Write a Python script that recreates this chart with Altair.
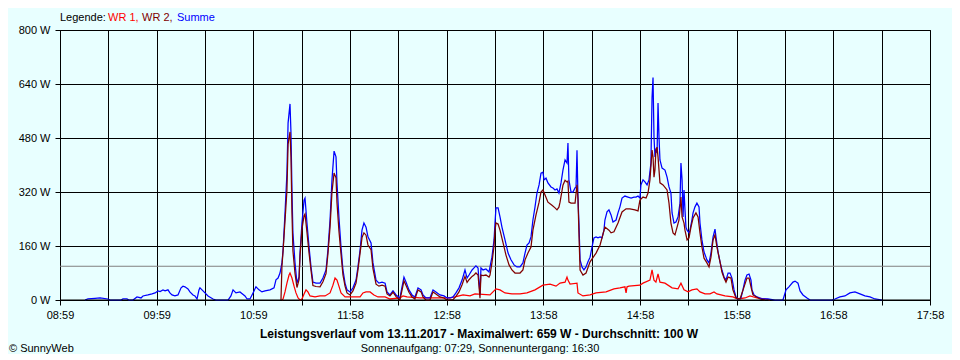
import altair as alt
import pandas as pd

FONT = "Liberation Sans"
BG = "#e8ffff"

# ---- data (minutes after 08:59, watts) ----
t_summe = [15.5, 17.3, 21.7, 24.8, 29.7, 31.0, 37.8, 39.0, 41.5, 42.7,
           45.2, 47.7, 50.2, 51.4, 54.5, 57.0, 58.9, 60.7, 62.0, 63.8,
           65.1, 66.9, 68.1, 69.4, 71.2, 73.1, 75.0, 76.2, 77.4, 79.3,
           80.5, 82.4, 83.6, 84.9, 86.1, 86.7, 88.6, 91.7, 94.8, 96.6,
           104.1, 105.9, 107.2, 109.0, 111.5, 114.6, 115.9, 117.7, 119.6, 121.4,
           123.3, 125.1, 127.0, 130.1, 132.6, 133.8, 135.1, 136.3, 137.5, 138.2,
           139.4, 140.6, 141.3, 142.5, 143.1, 143.7, 144.3, 145.6, 146.8, 148.1,
           148.7, 149.9, 151.2, 151.8, 153.0, 154.3, 155.5, 156.7, 158.6, 161.1,
           162.9, 164.8, 166.0, 167.3, 168.5, 169.8, 171.0, 171.6, 172.8, 174.1,
           175.3, 176.6, 177.8, 179.7, 181.5, 183.4, 184.6, 185.9, 187.1, 188.3,
           189.6, 190.8, 192.7, 193.9, 195.8, 197.6, 199.5, 201.4, 202.6, 204.4,
           206.3, 208.2, 210.6, 211.9, 213.1, 214.4, 216.2, 218.1, 219.9, 221.8,
           223.7, 224.9, 226.7, 229.2, 231.1, 232.9, 235.4, 237.9, 239.8, 241.6,
           243.5, 245.3, 247.2, 249.1, 250.9, 252.2, 253.4, 255.3, 256.5, 257.7,
           259.0, 260.2, 260.8, 262.1, 263.9, 265.8, 266.4, 267.6, 268.9, 269.5,
           270.1, 271.4, 272.6, 273.8, 275.7, 277.6, 279.4, 281.3, 283.1, 285.0,
           286.8, 288.1, 289.3, 290.6, 291.8, 293.0, 294.3, 295.5, 296.8, 298.0,
           299.2, 299.9, 301.1, 302.3, 304.2, 305.4, 306.7, 307.9, 309.1, 310.4,
           311.6, 312.9, 314.1, 314.7, 315.3, 316.6, 317.8, 319.1, 319.7, 320.3,
           320.9, 321.5, 322.2, 323.4, 324.6, 325.9, 327.1, 328.4, 329.6, 330.8,
           332.1, 333.3, 334.6, 335.8, 337.0, 337.6, 338.9, 340.1, 341.4, 342.6,
           344.5, 345.7, 346.9, 348.2, 350.0, 351.9, 353.8, 355.6, 356.9, 358.1,
           359.3, 359.9, 361.2, 362.4, 363.7, 364.9, 366.1, 366.8, 367.4, 368.0,
           368.6, 369.2, 369.9, 370.5, 371.1, 371.7, 373.0, 374.8, 376.1, 377.3,
           378.5, 379.2, 380.4, 381.6, 382.9, 384.1, 384.7, 385.4, 386.0, 386.6,
           387.2, 387.8, 388.5, 389.7, 390.3, 391.5, 392.2, 393.4, 394.6, 395.9,
           396.5, 397.7, 399.0, 400.2, 400.8, 402.1, 403.3, 404.6, 405.8, 406.4,
           407.7, 408.9, 410.1, 411.4, 412.6, 413.9, 415.1, 416.3, 417.6, 418.8,
           420.0, 421.9, 423.1, 424.4, 425.6, 426.9, 428.1, 428.7, 430.0, 431.8,
           433.7, 435.5, 438.6, 443.0, 447.9, 449.8, 451.6, 454.1, 455.4, 457.2,
           458.5, 460.3, 462.8, 464.7, 478.3, 480.1, 483.2, 486.3, 489.4, 492.5,
           495.6, 498.7, 501.8, 504.9, 509.3]
summe = [0, 3, 5, 6, 3, 0, 0, 3, 3, 0,
         0, 9, 6, 12, 15, 18, 21, 27, 25, 30,
         27, 30, 21, 15, 12, 15, 36, 41, 39, 33,
         24, 15, 12, 3, 30, 36, 27, 12, 3, 0,
         0, 12, 30, 21, 24, 12, 3, 3, 21, 39,
         30, 24, 27, 30, 36, 60, 65, 80, 110, 148,
         258, 376, 524, 581, 495, 326, 199, 110, 50, 68,
         139, 228, 296, 302, 228, 157, 98, 53, 50, 50,
         65, 89, 148, 237, 356, 441, 424, 347, 246, 157,
         89, 50, 30, 24, 36, 59, 98, 148, 207, 228,
         216, 187, 169, 110, 59, 50, 53, 50, 24, 15,
         27, 15, 6, 39, 68, 53, 30, 15, 9, 36,
         30, 15, 6, 6, 30, 24, 15, 12, 6, 6,
         9, 21, 36, 59, 89, 65, 74, 89, 95, 101,
         95, 15, 95, 89, 92, 83, 98, 127, 178, 228,
         273, 273, 246, 216, 178, 139, 119, 104, 98, 98,
         110, 139, 163, 169, 187, 237, 276, 317, 341, 376,
         379, 356, 361, 347, 335, 332, 326, 329, 317, 347,
         385, 415, 406, 465, 356, 320, 320, 332, 335, 444,
         305, 228, 119, 98, 89, 98, 113, 127, 157, 184,
         187, 184, 187, 184, 207, 237, 261, 267, 252, 231,
         237, 258, 276, 302, 308, 305, 302, 305, 305, 308,
         302, 341, 356, 350, 341, 356, 406, 601, 659, 483,
         424, 444, 436, 584, 483, 415, 391, 385, 364, 335,
         317, 258, 228, 231, 246, 287, 406, 356, 246, 326,
         267, 216, 207, 199, 207, 237, 258, 276, 287, 276,
         228, 178, 142, 127, 119, 110, 139, 187, 210, 187,
         142, 113, 89, 68, 59, 80, 80, 65, 30, 9,
         3, 6, 30, 59, 74, 77, 59, 30, 15, 9,
         6, 3, 3, 0, 0, 30, 39, 53, 56, 50,
         27, 15, 6, 0, 0, 3, 9, 12, 21, 24,
         18, 12, 9, 3, 0]

t_wr1 = [137.5, 138.2, 139.4, 140.6, 141.9, 142.5, 143.7, 145.0, 146.2, 147.5,
         148.7, 149.9, 151.2, 152.4, 153.6, 154.9, 158.0, 161.1, 164.2, 167.3,
         169.1, 170.4, 171.6, 172.8, 174.1, 176.6, 179.7, 185.9, 187.7, 189.6,
         192.1, 194.5, 197.0, 201.4, 204.4, 210.6, 212.5, 215.0, 223.0, 241.6,
         244.7, 249.7, 254.0, 257.1, 266.4, 270.1, 272.6, 275.7, 280.0, 285.0,
         289.3, 294.3, 299.2, 303.6, 307.3, 309.8, 312.9, 314.1, 314.7, 316.0,
         320.3, 320.9, 324.0, 328.4, 332.1, 338.3, 343.2, 346.9, 350.0, 350.7,
         351.3, 352.5, 359.3, 361.2, 365.5, 366.8, 368.0, 369.2, 370.5, 371.7,
         374.8, 379.2, 382.9, 384.7, 386.6, 389.1, 391.5, 394.6, 396.5, 399.6,
         402.7, 405.2, 407.0, 412.0, 416.9, 420.0, 424.4, 427.5, 431.8, 436.8,
         439.9]
wr1 = [0, 3, 24, 50, 74, 80, 65, 41, 21, 6,
       0, 3, 18, 30, 24, 12, 9, 12, 12, 21,
       44, 65, 59, 41, 21, 9, 9, 9, 21, 24,
       24, 15, 9, 9, 3, 6, 12, 9, 6, 6,
       9, 15, 12, 18, 15, 33, 30, 21, 18, 18,
       21, 30, 44, 47, 41, 50, 53, 68, 59, 47,
       50, 21, 12, 15, 21, 24, 33, 36, 39, 21,
       39, 41, 44, 50, 59, 89, 59, 53, 77, 53,
       50, 36, 33, 50, 30, 24, 30, 33, 24, 18,
       18, 24, 18, 12, 9, 3, 6, 12, 6, 3,
       0]

t_wr2 = [136.9, 137.5, 138.2, 139.4, 140.6, 141.3, 142.5, 143.1, 143.7, 144.3,
         145.6, 146.8, 148.1, 148.7, 149.9, 151.2, 151.8, 153.0, 154.3, 155.5,
         156.7, 158.6, 161.1, 162.9, 164.8, 166.0, 167.3, 168.5, 169.8, 171.0,
         171.6, 172.8, 174.1, 175.3, 176.6, 177.8, 179.7, 181.5, 183.4, 184.6,
         185.9, 187.1, 188.3, 189.6, 190.8, 192.7, 193.9, 195.8, 197.6, 199.5,
         201.4, 202.6, 204.4, 206.3, 208.2, 210.6, 211.9, 213.1, 214.4, 216.2,
         218.1, 219.9, 221.8, 223.7, 224.9, 226.7, 229.2, 231.1, 232.9, 235.4,
         237.9, 239.8, 243.5, 245.3, 247.2, 249.1, 250.9, 252.2, 253.4, 255.3,
         256.5, 257.7, 259.0, 260.2, 260.8, 262.1, 263.9, 265.8, 266.4, 267.6,
         268.9, 269.5, 270.1, 271.4, 272.6, 274.5, 276.3, 278.2, 280.0, 281.9,
         285.0, 286.8, 288.1, 289.9, 291.8, 293.0, 294.9, 296.8, 298.0, 299.2,
         300.5, 302.3, 304.8, 306.7, 307.9, 309.1, 309.8, 311.6, 312.9, 314.1,
         314.7, 315.3, 316.6, 319.1, 320.3, 320.9, 321.5, 322.2, 324.0, 325.9,
         328.4, 332.1, 334.6, 337.6, 340.1, 341.4, 343.2, 345.7, 348.2, 350.7,
         353.1, 356.2, 358.1, 359.3, 361.2, 363.1, 364.3, 365.5, 366.8, 367.4,
         368.0, 368.6, 369.2, 369.9, 370.5, 371.7, 373.6, 376.1, 377.3, 378.5,
         379.8, 381.0, 382.3, 383.5, 384.7, 385.4, 386.6, 387.2, 388.5, 389.7,
         390.9, 392.2, 394.0, 395.3, 396.5, 397.7, 399.0, 400.8, 402.1, 403.3,
         404.6, 405.8, 407.0, 408.9, 410.1, 411.4, 412.6, 413.9, 415.7, 416.9,
         418.8, 421.3, 423.8, 425.6, 426.9, 428.1, 429.3, 433.7, 436.8]
wr2 = [0, 100, 145, 234, 326, 462, 498, 423, 261, 146,
       79, 37, 60, 130, 210, 250, 255, 201, 139, 88,
       43, 40, 39, 54, 78, 137, 216, 320, 376, 362,
       288, 205, 136, 74, 41, 21, 15, 27, 50, 89,
       139, 185, 199, 192, 163, 149, 93, 47, 41, 44,
       41, 18, 12, 23, 10, 0, 29, 57, 43, 23,
       9, 3, 30, 24, 9, 0, 0, 24, 18, 9,
       6, 0, 1, 11, 24, 45, 70, 52, 60, 70,
       74, 80, 74, 5, 74, 72, 74, 68, 74, 110,
       160, 207, 228, 225, 207, 169, 133, 104, 89, 80,
       80, 89, 119, 139, 157, 207, 252, 290, 320, 326,
       311, 290, 281, 273, 267, 275, 290, 340, 355, 350,
       352, 290, 287, 287, 341, 300, 200, 89, 74, 80,
       113, 139, 163, 216, 207, 199, 202, 228, 261, 270,
       270, 267, 264, 296, 305, 302, 317, 356, 444, 424,
       364, 385, 444, 453, 424, 347, 341, 326, 287, 228,
       199, 193, 216, 237, 305, 246, 228, 207, 178, 184,
       216, 243, 258, 246, 199, 157, 124, 110, 98, 127,
       178, 193, 157, 113, 83, 65, 53, 68, 65, 30,
       6, 3, 39, 65, 65, 39, 15, 3, 0]

y_ticks = [0, 160, 320, 480, 640, 800]
x_labels = ["08:59", "09:59", "10:59", "11:58", "12:58",
            "13:58", "14:58", "15:58", "16:58", "17:58"]
span_minutes = 539          # 08:59 .. 17:58
n_intervals = 18
average_w = 100

title_text = "Leistungsverlauf vom 13.11.2017 - Maximalwert: 659 W - Durchschnitt: 100 W"
subtitle_text = "Sonnenaufgang: 07:29, Sonnenuntergang: 16:30"
legend_parts = [("Legende:", "black", 0), ("WR 1,", "#ff0000", 48),
                ("WR 2,", "#800000", 82), ("Summe", "#0000ff", 117)]

# ---- chart ----
W, H = 870, 270
step = span_minutes / n_intervals
x_ticks = [i * step for i in range(n_intervals + 1)]
label_arr = "[" + ",".join("'%s'" % s for s in x_labels) + "]"
label_expr = ("round(datum.value/%f) %% 2 == 0 ? %s[round(datum.value/%f)] : ''"
              % (step, label_arr, 2 * step))

x_scale = alt.Scale(domain=[0, span_minutes], nice=False, zero=False)
y_scale = alt.Scale(domain=[0, 800], nice=False)

common_axis = dict(title=None, grid=True, gridColor="black", gridOpacity=1, gridWidth=1,
                   domainColor="black", domainWidth=1, tickColor="black", tickSize=5,
                   tickWidth=1, labelColor="black", labelFont=FONT, labelFontSize=11,
                   labelFlush=False, labelOverlap=False)
x_axis = alt.Axis(values=x_ticks, labelExpr=label_expr, labelPadding=4, labelAngle=0,
                  **common_axis)
y_axis = alt.Axis(values=y_ticks, labelExpr="datum.value + ' W'", labelPadding=5,
                  **common_axis)

X = alt.X("t:Q", scale=x_scale, axis=x_axis)
Y = alt.Y("w:Q", scale=y_scale, axis=y_axis)

avg_df = pd.DataFrame({"t": [0.0], "w": [average_w]})
avg_rule = alt.Chart(avg_df).mark_rule(color="#808080", strokeWidth=1).encode(y=Y)


def series(t, w, color):
    df = pd.DataFrame({"t": t, "w": w})
    return alt.Chart(df).mark_line(color=color, strokeWidth=1.25).encode(x=X, y=Y)


red = series(t_wr1, wr1, "#ff0000")
blue = series(t_summe, summe, "#0000ff")
dark = series(t_wr2, wr2, "#800000")

zero_rule = alt.Chart(pd.DataFrame({"w": [0]})).mark_rule(color="black", strokeWidth=1).encode(y=Y)


def txt(s, x, y, color="black", bold=False, align="left", size=11):
    return alt.Chart(pd.DataFrame({"s": [s]})).mark_text(
        font=FONT, fontSize=size, fontWeight="bold" if bold else "normal",
        color=color, align=align, baseline="alphabetic",
    ).encode(x=alt.value(x), y=alt.value(y), text="s:N")


texts = [txt(s, x, -9, color=c) for s, c, x in legend_parts]
texts.append(txt(title_text, 419, 308, bold=True, align="center", size=12))
texts.append(txt(subtitle_text, 420, 322, align="center"))
texts.append(txt("\u00a9 SunnyWeb", -51, 322))

chart = alt.layer(avg_rule, red, blue, dark, zero_rule, *texts).properties(
    width=W, height=H,
    autosize=alt.AutoSizeParams(type="none"),
    padding={"left": 52, "top": 22, "right": 22, "bottom": 54},
    background=BG,
).configure_view(stroke="black", strokeWidth=1)

chart.save("out.html", embed_options={"renderer": "svg", "actions": False})
